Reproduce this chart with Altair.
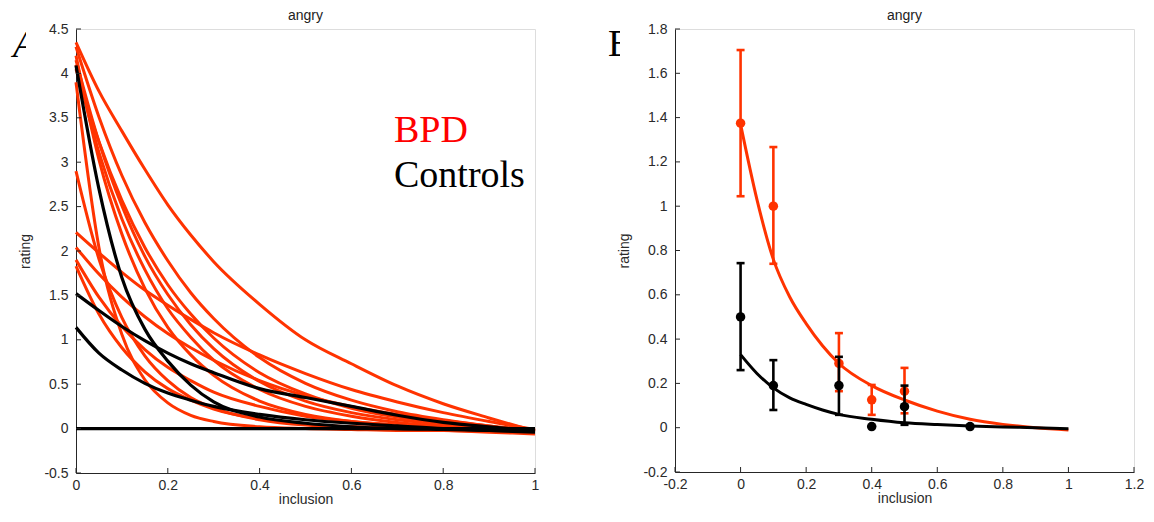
import altair as alt
import pandas as pd

# ---------------- data ----------------
x_grid = [0, 0.05, 0.1, 0.15, 0.2, 0.25, 0.3, 0.4, 0.5, 0.6, 0.7, 0.8, 0.9, 1.0]

# Panel A: individual fitted curves
bpd_r01 = [4.35, 3.80, 3.35, 2.92, 2.52, 2.18, 1.88, 1.40, 1.00, 0.73, 0.48, 0.28, 0.12, -0.03]
bpd_r02 = [4.30, 3.51, 2.85, 2.32, 1.89, 1.53, 1.24, 0.80, 0.51, 0.32, 0.19, 0.10, 0.03, -0.03]
bpd_r03 = [4.15, 3.23, 2.51, 1.94, 1.51, 1.17, 0.90, 0.53, 0.31, 0.18, 0.10, 0.05, 0.01, -0.03]
bpd_r04 = [4.10, 3.11, 2.36, 1.79, 1.35, 1.03, 0.77, 0.44, 0.25, 0.14, 0.07, 0.03, 0.00, -0.02]
bpd_r05 = [4.05, 3.23, 2.57, 2.04, 1.62, 1.29, 1.02, 0.63, 0.39, 0.23, 0.13, 0.07, 0.02, -0.02]
bpd_r06 = [4.20, 3.03, 2.19, 1.58, 1.14, 0.83, 0.60, 0.31, 0.16, 0.08, 0.04, 0.02, 0.00, -0.02]
bpd_r07 = [3.90, 2.04, 1.06, 0.55, 0.29, 0.15, 0.08, 0.02, 0.00, -0.01, -0.02, -0.02, -0.03, -0.04]
bpd_r08 = [2.90, 1.91, 1.25, 0.82, 0.54, 0.35, 0.23, 0.10, 0.04, 0.02, 0.01, 0.00, -0.01, -0.03]
bpd_r09 = [2.21, 1.98, 1.76, 1.56, 1.39, 1.23, 1.08, 0.83, 0.62, 0.44, 0.30, 0.18, 0.08, -0.01]
bpd_r10 = [2.04, 1.74, 1.48, 1.26, 1.07, 0.91, 0.77, 0.54, 0.37, 0.25, 0.16, 0.09, 0.03, -0.02]
bpd_r11 = [1.90, 1.48, 1.15, 0.89, 0.69, 0.54, 0.41, 0.25, 0.14, 0.08, 0.04, 0.01, -0.01, -0.04]
bpd_r12 = [1.83, 1.29, 0.91, 0.64, 0.45, 0.32, 0.22, 0.11, 0.05, 0.02, 0.00, -0.02, -0.04, -0.06]

ctl_b1 = [4.09, 2.70, 1.70, 1.12, 0.76, 0.49, 0.30, 0.13, 0.06, 0.02, 0.00, -0.01, -0.02, -0.03]
ctl_b2 = [1.52, 1.33, 1.15, 0.99, 0.85, 0.73, 0.63, 0.45, 0.35, 0.25, 0.15, 0.07, 0.02, -0.02]
ctl_b3 = [1.14, 0.85, 0.66, 0.51, 0.40, 0.32, 0.25, 0.16, 0.10, 0.06, 0.03, 0.00, -0.02, -0.04]
ctl_b4 = [0, 0, 0, 0, 0, 0, 0, 0, 0, 0, 0, 0, 0, 0]

# Panel B: group means with error bars and group fits
bpd_x = [0, 0.1, 0.3, 0.4, 0.5]
bpd_mean = [1.375, 1.00, 0.29, 0.126, 0.165]
bpd_lo = [1.045, 0.74, 0.165, 0.058, 0.065]
bpd_hi = [1.705, 1.267, 0.427, 0.193, 0.27]

ctl_x = [0, 0.1, 0.3, 0.4, 0.5, 0.7]
ctl_mean = [0.50, 0.19, 0.19, 0.005, 0.095, 0.005]
ctl_lo = [0.26, 0.08, 0.058, 0.005, 0.013, 0.005]
ctl_hi = [0.743, 0.305, 0.32, 0.005, 0.19, 0.005]

bpd_fit = [1.37, 1.03, 0.76, 0.59, 0.47, 0.37, 0.29, 0.19, 0.125, 0.075, 0.038, 0.015, 0.0, -0.01]
ctl_fit = [0.33, 0.245, 0.18, 0.135, 0.105, 0.08, 0.06, 0.038, 0.022, 0.014, 0.008, 0.003, 0.0, -0.005]

left_x_ticks = [0, 0.2, 0.4, 0.6, 0.8, 1]
left_y_ticks = [-0.5, 0, 0.5, 1, 1.5, 2, 2.5, 3, 3.5, 4, 4.5]
right_x_ticks = [-0.2, 0, 0.2, 0.4, 0.6, 0.8, 1, 1.2]
right_y_ticks = [-0.2, 0, 0.2, 0.4, 0.6, 0.8, 1, 1.2, 1.4, 1.6, 1.8]

panel_title = "angry"

# ---------------- styling ----------------
RED = "#ff3300"
BLK = "#000000"
AX = "#262626"
LAB = "#2a2a2a"
SANS = "Liberation Sans"
SERIF = "Liberation Serif"
W1, H1 = 459, 444
W2, H2 = 459, 443
LBL = "(datum.value < 0 ? '-' : '') + format(abs(datum.value), '~g')"

def axis(values, title, is_x):
    return alt.Axis(values=values, title=title, grid=False, ticks=False, tickSize=0,
                    domainColor=AX, domainWidth=1, labelFont=SANS, labelFontSize=14,
                    labelColor=LAB, titleFont=SANS, titleFontSize=14, titleFontWeight="normal",
                    titleColor=LAB, labelFlush=False, labelOverlap=False, labelExpr=LBL,
                    labelPadding=5 if is_x else 8, titlePadding=0 if is_x else 11)


def make_enc(xdom, ydom, xt, yt):
    def X(field="x"):
        return alt.X(f"{field}:Q", scale=alt.Scale(domain=xdom, nice=False, zero=False),
                     axis=axis(xt, "inclusion", True))
    def Y(field="y"):
        return alt.Y(f"{field}:Q", scale=alt.Scale(domain=ydom, nice=False, zero=False),
                     axis=axis(yt, "rating", False))
    return X, Y


def curves_df(curves):
    rows = []
    for name, ys in curves.items():
        for xv, yv in zip(x_grid, ys):
            rows.append({"curve": name, "x": xv, "y": yv})
    return pd.DataFrame(rows)


def tick_layers(X, Y, xt, yt, H):
    ty = alt.Chart(pd.DataFrame({"y": yt})).mark_rule(color=AX, strokeWidth=1).encode(
        y=Y(), x=alt.value(0), x2=alt.value(5))
    tx = alt.Chart(pd.DataFrame({"x": xt})).mark_rule(color=AX, strokeWidth=1).encode(
        x=X(), y=alt.value(H), y2=alt.value(H - 5))
    return [ty, tx]


def label_text(txt, color, xpx, ypx, italic=False):
    return alt.Chart(pd.DataFrame({"t": [txt]})).mark_text(
        font=SERIF, fontSize=38, color=color, align="left", baseline="alphabetic",
        fontStyle="italic" if italic else "normal").encode(
        text="t:N", x=alt.value(xpx), y=alt.value(ypx))


def title_text(W):
    return alt.Chart(pd.DataFrame({"t": [panel_title]})).mark_text(
        font=SANS, fontSize=14, color="#222", align="center", baseline="alphabetic").encode(
        text="t:N", x=alt.value(W / 2), y=alt.value(-9))


def mask(x1, x2, y1, y2):
    return alt.Chart(pd.DataFrame({"m": [0]})).mark_rect(color="white").encode(
        x=alt.value(x1), x2=alt.value(x2), y=alt.value(y1), y2=alt.value(y2))


# ---------------- Panel A ----------------
XL, YL = make_enc([0, 1], [-0.5, 4.5], left_x_ticks, left_y_ticks)
red_df = curves_df({"r01": bpd_r01, "r02": bpd_r02, "r03": bpd_r03, "r04": bpd_r04,
                    "r05": bpd_r05, "r06": bpd_r06, "r07": bpd_r07, "r08": bpd_r08,
                    "r09": bpd_r09, "r10": bpd_r10, "r11": bpd_r11, "r12": bpd_r12})
blk_df = curves_df({"b1": ctl_b1, "b2": ctl_b2, "b3": ctl_b3, "b4": ctl_b4})

red_lines = alt.Chart(red_df).mark_line(color=RED, strokeWidth=3, interpolate="monotone").encode(
    x=XL(), y=YL(), detail="curve:N")
blk_lines = alt.Chart(blk_df).mark_line(color=BLK, strokeWidth=3.2, interpolate="monotone").encode(
    x=XL(), y=YL(), detail="curve:N")

left = alt.layer(
    red_lines, blk_lines, *tick_layers(XL, YL, left_x_ticks, left_y_ticks, H1),
    label_text("BPD", "#ff0000", 318, 113),
    label_text("Controls", BLK, 318, 158),
    label_text("A", BLK, -63, 28, italic=True),
    mask(-50, -36, 0, 34),
    title_text(W1),
).properties(width=W1, height=H1)

# ---------------- Panel B ----------------
XR, YR = make_enc([-0.2, 1.2], [-0.2, 1.8], right_x_ticks, right_y_ticks)
fit_red = pd.DataFrame({"x": x_grid, "y": bpd_fit})
fit_blk = pd.DataFrame({"x": x_grid, "y": ctl_fit})
pts_red = pd.DataFrame({"x": bpd_x, "y": bpd_mean, "lo": bpd_lo, "hi": bpd_hi})
pts_blk = pd.DataFrame({"x": ctl_x, "y": ctl_mean, "lo": ctl_lo, "hi": ctl_hi})


def group_layers(fit, pts, color):
    line = alt.Chart(fit).mark_line(color=color, strokeWidth=3, interpolate="monotone").encode(
        x=XR(), y=YR())
    bars = alt.Chart(pts).mark_rule(color=color, strokeWidth=2.6).encode(
        x=XR(), y=YR("lo"), y2="hi:Q")
    cap_lo = alt.Chart(pts).mark_point(shape="stroke", size=64, strokeWidth=2.6, color=color,
                                       opacity=1).encode(x=XR(), y=YR("lo"))
    cap_hi = alt.Chart(pts).mark_point(shape="stroke", size=64, strokeWidth=2.6, color=color,
                                       opacity=1).encode(x=XR(), y=YR("hi"))
    dots = alt.Chart(pts).mark_circle(size=90, color=color, opacity=1).encode(x=XR(), y=YR())
    return [line, bars, cap_lo, cap_hi, dots]


right = alt.layer(
    *group_layers(fit_red, pts_red, RED),
    *group_layers(fit_blk, pts_blk, BLK),
    *tick_layers(XR, YR, right_x_ticks, right_y_ticks, H2),
    label_text("B", BLK, -67, 27),
    mask(-55, -40, 0, 34),
    title_text(W2),
).properties(width=W2, height=H2)

chart = alt.hconcat(left, right, spacing=65).properties(
    padding={"left": 4, "top": 0, "right": 0, "bottom": 0}
).configure_view(stroke=None).configure(background="white")

chart.save("out.html", embed_options={"renderer": "svg", "actions": False})
